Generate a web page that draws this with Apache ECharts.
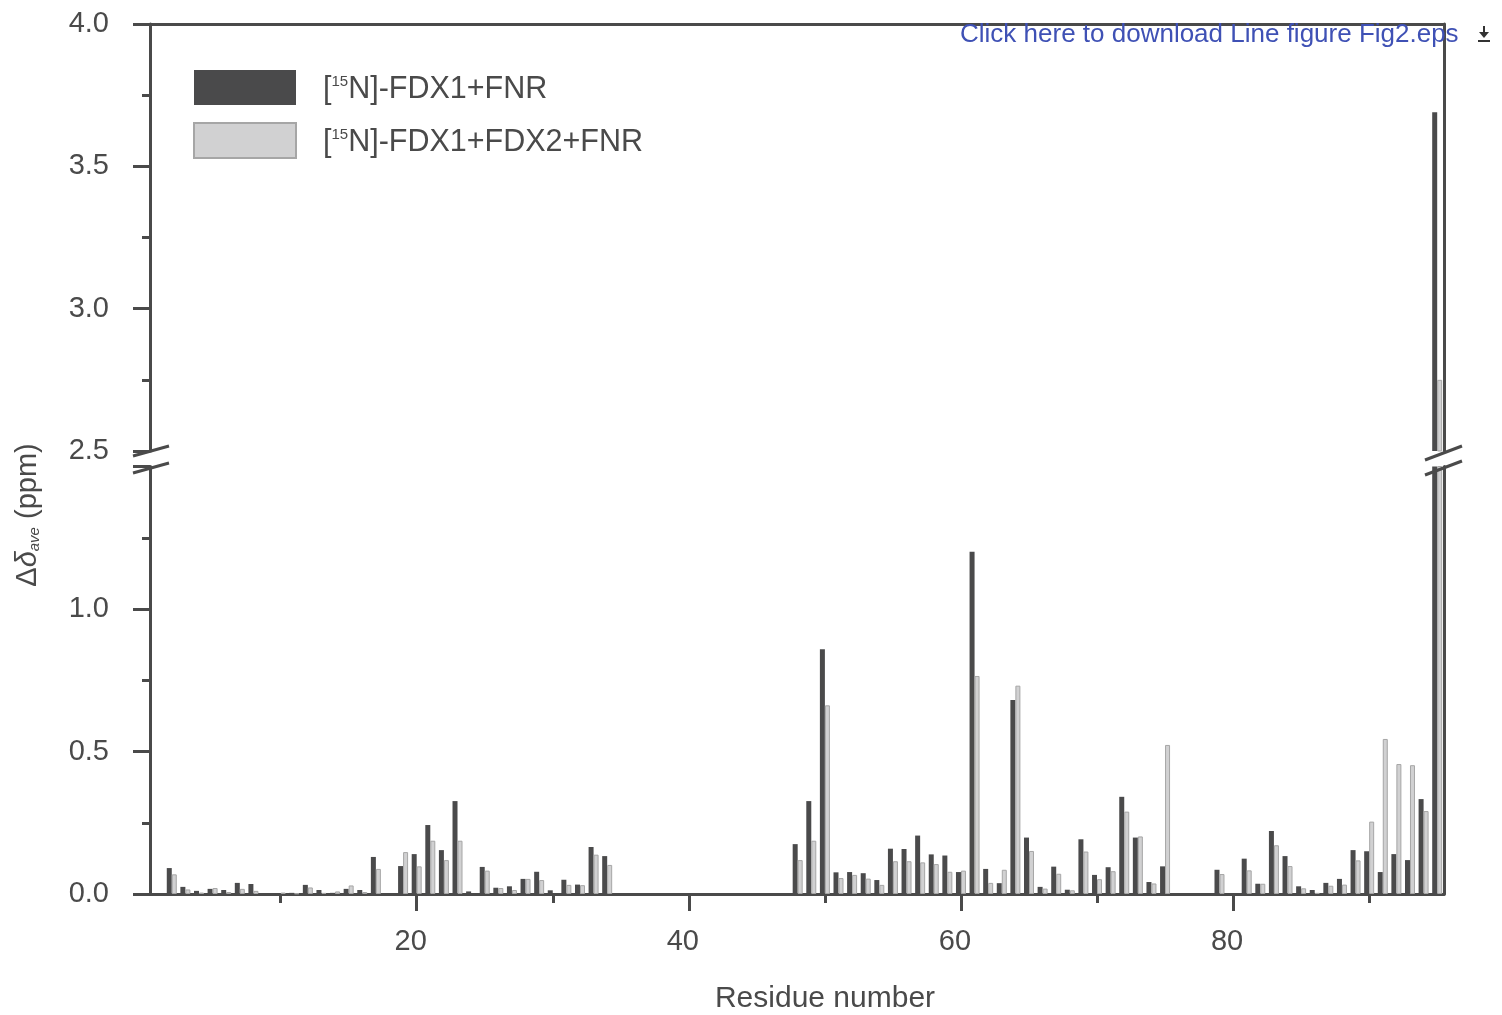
<!DOCTYPE html>
<html>
<head>
<meta charset="utf-8">
<title>Fig2</title>
<script src="https://cdn.jsdelivr.net/npm/echarts@6/dist/echarts.min.js"></script>
<style>
	html, body { margin: 0; padding: 0; background: #fff; }
	#container { width: 1502px; height: 1015px; }
</style>
</head>
<body>
<div id="container"></div>
<script>
// residues that have a measured shift
var residues = [2, 3, 4, 5, 6, 7, 8, 10, 11, 12, 13, 14, 15, 16, 17,
	19, 20, 21, 22, 23, 24, 25, 26, 27, 28, 29, 30, 31, 32, 33, 34,
	48, 49, 50, 51, 52, 53, 54, 55, 56, 57, 58, 59, 60, 61, 62, 63, 64, 65,
	66, 67, 68, 69, 70, 71, 72, 73, 74, 75, 79,
	81, 82, 83, 84, 85, 86, 87, 88, 89, 90, 91, 92, 93, 94, 95];
// [15N]-FDX1+FNR
var fdx1Fnr = [0.091, 0.025, 0.011, 0.018, 0.014, 0.039, 0.035, 0.002, 0.004, 0.032, 0.014, 0.004, 0.018, 0.014, 0.130,
	0.098, 0.140, 0.242, 0.154, 0.326, 0.009, 0.095, 0.022, 0.027, 0.053, 0.078, 0.013, 0.050, 0.033, 0.165, 0.133,
	0.175, 0.326, 0.859, 0.076, 0.077, 0.073, 0.049, 0.159, 0.158, 0.205, 0.139, 0.135, 0.077, 1.201, 0.088, 0.038, 0.681, 0.198,
	0.025, 0.096, 0.015, 0.192, 0.067, 0.094, 0.341, 0.198, 0.042, 0.097, 0.085,
	0.124, 0.036, 0.221, 0.133, 0.027, 0.014, 0.039, 0.053, 0.154, 0.150, 0.077, 0.140, 0.119, 0.333, 3.69];
// [15N]-FDX1+FDX2+FNR
var fdx1Fdx2Fnr = [0.069, 0.016, 0.005, 0.021, 0.007, 0.018, 0.011, 0.005, 0.002, 0.023, 0.004, 0.009, 0.030, 0.007, 0.088,
	0.147, 0.097, 0.187, 0.119, 0.187, 0, 0.082, 0.021, 0.014, 0.053, 0.049, 0, 0.032, 0.031, 0.138, 0.102,
	0.119, 0.187, 0.662, 0.056, 0.067, 0.054, 0.032, 0.115, 0.115, 0.111, 0.105, 0.078, 0.082, 0.765, 0.039, 0.085, 0.731, 0.151,
	0.019, 0.071, 0.013, 0.149, 0.052, 0.080, 0.289, 0.202, 0.037, 0.523, 0.070,
	0.083, 0.036, 0.171, 0.098, 0.020, 0.004, 0.029, 0.033, 0.118, 0.254, 0.544, 0.456, 0.452, 0.291, 2.75];

var seriesNames = ['[15N]-FDX1+FNR', '[15N]-FDX1+FDX2+FNR'];
var majorTicks = [20, 40, 60, 80];
var minorTicks = [10, 30, 50, 70, 90];
var lowRange = [0, 1.5];
var highRange = [2.5, 4.0];

var axisColor = '#4a4a4a';
var darkColor = '#4a4a4b';
var lightColor = '#d1d1d2';

function pairs(values, floor){
	var out = [];
	for(var i = 0; i < residues.length; i++){
		if(values[i] > floor){
			out.push([residues[i], values[i]]);
		}
	}
	return out;
}

function yAxisLeft(grid, range, showMax){
	return {
		type: 'value',
		gridIndex: grid,
		position: 'left',
		min: range[0],
		max: range[1],
		interval: 0.5,
		axisLine: { show: true, onZero: false, lineStyle: { color: axisColor, width: 3 } },
		axisTick: { show: true, length: 17, lineStyle: { color: axisColor, width: 3 } },
		minorTick: { show: true, splitNumber: 2, length: 8, lineStyle: { color: axisColor, width: 3 } },
		axisLabel: {
			fontSize: 29, color: axisColor, margin: 41, showMaxLabel: showMax,
			formatter: function(v){ return v.toFixed(1); }
		},
		splitLine: { show: false },
		minorSplitLine: { show: false }
	};
}

function yAxisRight(grid, range){
	return {
		type: 'value',
		gridIndex: grid,
		position: 'right',
		min: range[0],
		max: range[1],
		axisLine: { show: true, onZero: false, lineStyle: { color: axisColor, width: 3 } },
		axisTick: { show: false },
		axisLabel: { show: false },
		splitLine: { show: false }
	};
}

function barSeries(idx, values, axisIdx, floor){
	var light = idx === 1;
	return {
		name: seriesNames[idx],
		type: 'bar',
		xAxisIndex: axisIdx,
		yAxisIndex: axisIdx === 0 ? 0 : 2,
		barWidth: 5,
		barGap: '0%',
		clip: true,
		itemStyle: light ? { color: lightColor, borderColor: '#a6a6a6', borderWidth: 1 } : { color: darkColor },
		data: pairs(values, floor)
	};
}

function slash(x1, y1, x2, y2){
	return {
		type: 'line',
		shape: { x1: x1, y1: y1, x2: x2, y2: y2 },
		style: { stroke: axisColor, lineWidth: 3 },
		z: 100
	};
}

var myChart = echarts.init(document.getElementById('container'));
var option = {
	animation: false,
	backgroundColor: '#fff',
	textStyle: { fontFamily: 'Liberation Sans, Arial, sans-serif' },
	grid: [
		{ left: 150, right: 58, top: 466.5, height: 427.5 },
		{ left: 150, right: 58, top: 24, height: 427 }
	],
	legend: {
		orient: 'vertical',
		left: 193,
		top: 70,
		padding: 0,
		itemWidth: 102,
		itemHeight: 35,
		itemGap: 17,
		icon: 'rect',
		selectedMode: false,
		data: seriesNames,
		formatter: function(name){
			return name.replace('15', '{sup|15}');
		},
		textStyle: {
			fontSize: 30.5,
			color: axisColor,
			padding: [4, 0, 0, 22],
			rich: {
				sup: { fontSize: 15, color: axisColor, verticalAlign: 'top', padding: [0, 0, 14, 0] }
			}
		}
	},
	xAxis: [
		{
			type: 'value',
			gridIndex: 0,
			position: 'bottom',
			min: 0.4,
			max: 95.5,
			axisLine: { show: true, onZero: false, lineStyle: { color: axisColor, width: 3 } },
			axisTick: { show: true, customValues: majorTicks, length: 17, lineStyle: { color: axisColor, width: 3 } },
			axisLabel: { customValues: majorTicks, fontSize: 29, color: axisColor, margin: 33, padding: [0, 12, 0, 0] },
			splitLine: { show: false }
		},
		{
			type: 'value',
			gridIndex: 0,
			position: 'bottom',
			min: 0.4,
			max: 95.5,
			axisLine: { show: false, onZero: false },
			axisTick: { show: true, customValues: minorTicks, length: 9, lineStyle: { color: axisColor, width: 3 } },
			axisLabel: { show: false },
			splitLine: { show: false }
		},
		{
			type: 'value',
			gridIndex: 1,
			position: 'top',
			min: 0.4,
			max: 95.5,
			axisLine: { show: true, onZero: false, lineStyle: { color: axisColor, width: 3 } },
			axisTick: { show: false },
			axisLabel: { show: false },
			splitLine: { show: false }
		}
	],
	yAxis: [
		yAxisLeft(0, lowRange, false),
		yAxisRight(0, lowRange),
		yAxisLeft(1, highRange, true),
		yAxisRight(1, highRange)
	],
	series: [
		barSeries(0, fdx1Fnr, 0, 0),
		barSeries(1, fdx1Fdx2Fnr, 0, 0),
		barSeries(0, fdx1Fnr, 2, highRange[0]),
		barSeries(1, fdx1Fdx2Fnr, 2, highRange[0])
	],
	graphic: [
		// axis break marks
		slash(133, 456, 169, 446),
		slash(133, 473, 169, 463),
		slash(1425, 460, 1462, 446),
		slash(1425, 475, 1462, 461),
		{
			type: 'text',
			x: 28,
			y: 515,
			rotation: Math.PI / 2,
			style: {
				text: '\u0394{it|\u03b4}{sub|ave} (ppm)',
				fontSize: 29,
				fontFamily: 'Liberation Sans, Arial, sans-serif',
				fill: axisColor,
				align: 'center',
				verticalAlign: 'middle',
				rich: {
					it: { fontSize: 29, fontStyle: 'italic', fill: axisColor },
					sub: { fontSize: 15, fontStyle: 'italic', fill: axisColor, verticalAlign: 'bottom', padding: [12, 0, 0, 0] }
				}
			}
		},
		{
			type: 'text',
			x: 825,
			y: 999,
			style: {
				text: 'Residue number',
				fontSize: 30,
				fontFamily: 'Liberation Sans, Arial, sans-serif',
				fill: axisColor,
				align: 'center',
				verticalAlign: 'middle'
			}
		},
		{
			type: 'text',
			x: 960,
			y: 35,
			z: 120,
			style: {
				text: 'Click here to download Line figure Fig2.eps',
				fontSize: 26,
				fontFamily: 'Liberation Sans, Arial, sans-serif',
				fill: '#3f51b5',
				align: 'left',
				verticalAlign: 'middle'
			}
		},
		// download icon
		{
			type: 'group',
			z: 120,
			children: [
				{ type: 'line', shape: { x1: 1484, y1: 26, x2: 1484, y2: 33 }, style: { stroke: '#333', lineWidth: 2 } },
				{ type: 'polygon', shape: { points: [[1479, 32], [1489, 32], [1484, 38]] }, style: { fill: '#333' } },
				{ type: 'line', shape: { x1: 1478, y1: 41, x2: 1490, y2: 41 }, style: { stroke: '#333', lineWidth: 2 } }
			]
		}
	]
};
myChart.setOption(option, true);
</script>
</body>
</html>
